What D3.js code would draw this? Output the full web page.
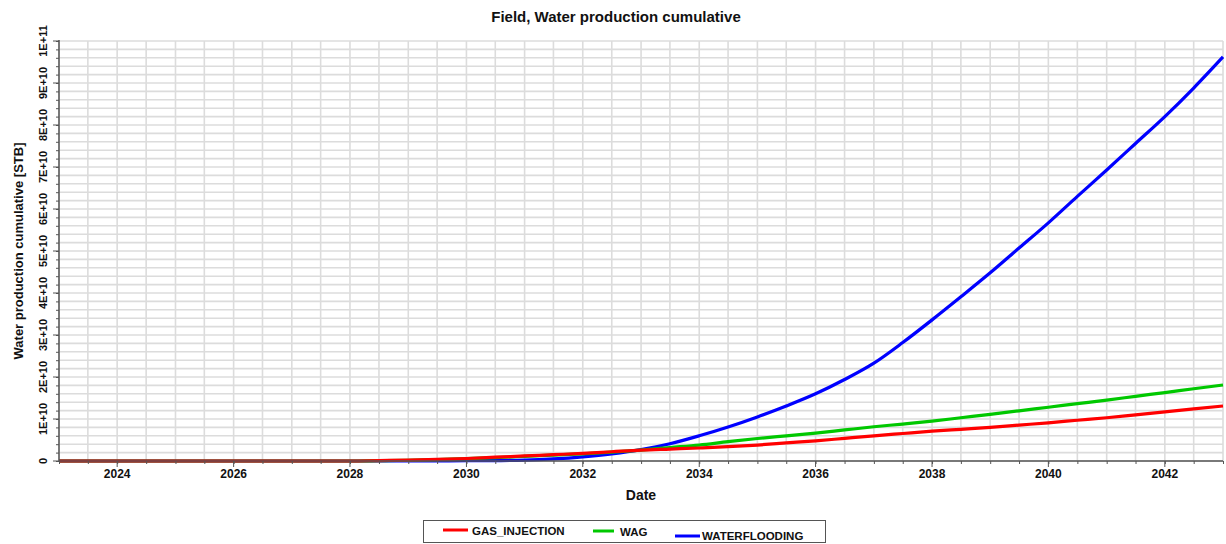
<!DOCTYPE html>
<html>
<head>
<meta charset="utf-8">
<script src="https://cdn.jsdelivr.net/npm/d3@7"></script>
<style>
  html, body { margin: 0; padding: 0; background: #fff; }
  svg { display: block; font-family: "Liberation Sans", Arial, sans-serif; }
</style>
</head>
<body>
<svg id="chart" width="1226" height="544"></svg>
<script>
// ---- Data ----
const dates = [
  "2023-01-01","2023-07-01","2024-01-01","2024-07-01","2025-01-01","2025-07-01",
  "2026-01-01","2026-07-01","2027-01-01","2027-07-01","2028-01-01","2028-07-01",
  "2029-01-01","2029-07-01","2030-01-01","2030-07-01","2031-01-01","2031-07-01",
  "2032-01-01","2032-07-01","2033-01-01","2033-07-01","2034-01-01","2034-07-01",
  "2035-01-01","2035-07-01","2036-01-01","2036-07-01","2037-01-01","2037-07-01",
  "2038-01-01","2038-07-01","2039-01-01","2039-07-01","2040-01-01","2040-07-01",
  "2041-01-01","2041-07-01","2042-01-01","2042-07-01","2043-01-01"
];
const gasInjection = [
  0,0,0,0,0,0, 0,0,0,0,0,0.01e10,
  0.02e10,0.04e10,0.06e10,0.09e10,0.12e10,0.15e10,
  0.18e10,0.22e10,0.26e10,0.285e10,0.31e10,0.34e10,
  0.38e10,0.43e10,0.48e10,0.54e10,0.60e10,0.655e10,
  0.71e10,0.755e10,0.80e10,0.855e10,0.91e10,0.97e10,
  1.03e10,1.10e10,1.17e10,1.24e10,1.31e10
];
const wag = [
  0,0,0,0,0,0, 0,0,0,0,0,0.008e10,
  0.018e10,0.035e10,0.055e10,0.08e10,0.11e10,0.14e10,
  0.17e10,0.21e10,0.26e10,0.32e10,0.38e10,0.46e10,
  0.535e10,0.60e10,0.665e10,0.74e10,0.815e10,0.88e10,
  0.95e10,1.03e10,1.11e10,1.195e10,1.28e10,1.365e10,
  1.45e10,1.54e10,1.63e10,1.72e10,1.81e10
];
const waterflooding = [
  0,0,0,0,0,0, 0,0,0,0,0,0,
  0.002e10,0.004e10,0.006e10,0.01e10,0.02e10,0.05e10,
  0.10e10,0.17e10,0.27e10,0.41e10,0.60e10,0.81e10,
  1.05e10,1.31e10,1.60e10,1.94e10,2.33e10,2.82e10,
  3.36e10,3.91e10,4.48e10,5.07e10,5.67e10,6.30e10,
  6.93e10,7.56e10,8.20e10,8.88e10,9.62e10
];
const seriesNames = ["GAS_INJECTION", "WAG", "WATERFLOODING"];
const seriesColors = ["#ff0000", "#00c800", "#0000ff"];
const yMajorTicks = [0,1e10,2e10,3e10,4e10,5e10,6e10,7e10,8e10,9e10,1e11];
const xLabelYears = [2024,2026,2028,2030,2032,2034,2036,2038,2040,2042];

const titleText = "Field, Water production cumulative";
const xTitle = "Date";
const yTitle = "Water production cumulative [STB]";

// ---- Layout ----
const svg = d3.select("#chart");
const L = 59, R = 1223, T = 41, B = 461;
const parse = d3.timeParse("%Y-%m-%d");
const dateObjs = dates.map(parse);

const x = d3.scaleTime().domain([parse("2023-01-01"), parse("2043-01-01")]).range([L, R]);
const y = d3.scaleLinear().domain([0, 1e11]).range([B, T]);

const halfYears = d3.timeMonth.every(6).range(parse("2023-01-01"), parse("2043-01-02"));
const yMinor = d3.range(0, 1e11 + 1, 2e9);

// grid
const grid = svg.append("g");
grid.selectAll("line.v").data(halfYears).join("line")
  .attr("x1", d => x(d)).attr("x2", d => x(d)).attr("y1", T).attr("y2", B)
  .attr("stroke", "#dcdcdc").attr("stroke-width", 1.6);
grid.selectAll("line.h").data(yMinor).join("line")
  .attr("x1", L).attr("x2", R).attr("y1", d => y(d)).attr("y2", d => y(d))
  .attr("stroke", "#dcdcdc").attr("stroke-width", 1.6);

// series lines
const line = d3.line().x((d, i) => x(dateObjs[i])).y(d => y(d)).curve(d3.curveMonotoneX);
const allSeries = [gasInjection, wag, waterflooding];
[2, 1, 0].forEach(k => {
  svg.append("path").datum(allSeries[k])
    .attr("d", line).attr("fill", "none")
    .attr("stroke", seriesColors[k]).attr("stroke-width", 3.2)
    .attr("stroke-linejoin", "round");
});

// axes
const fmtE = v => {
  if (v === 0) return "0";
  const e = Math.floor(Math.log10(v) + 1e-9);
  const m = Math.round(v / Math.pow(10, e));
  return m + "E+" + e;
};

const yAxisG = svg.append("g").attr("transform", `translate(${L},0)`);
yAxisG.call(d3.axisLeft(y).tickValues(yMinor).tickSize(3).tickFormat(""));
yAxisG.call(g => g.select(".domain").remove());
yAxisG.selectAll(".tick line").attr("stroke", "#555");
const yMaj = svg.append("g");
yMaj.selectAll("line").data(yMajorTicks).join("line")
  .attr("x1", L - 6).attr("x2", L).attr("y1", d => y(d)).attr("y2", d => y(d))
  .attr("stroke", "#555").attr("stroke-width", 1);
yMaj.selectAll("text").data(yMajorTicks).join("text")
  .attr("transform", d => `translate(${47},${y(d)}) rotate(-90)`)
  .attr("text-anchor", "middle")
  .attr("font-size", "11px").attr("font-weight", "bold").attr("fill", "#111")
  .text(fmtE);

const xAxisG = svg.append("g").attr("transform", `translate(0,${B})`);
xAxisG.call(d3.axisBottom(x).tickValues(halfYears).tickSize(3).tickFormat(""));
xAxisG.call(g => g.select(".domain").remove());
xAxisG.selectAll(".tick line").attr("stroke", "#555");
const xMaj = svg.append("g");
xMaj.selectAll("line").data(xLabelYears).join("line")
  .attr("x1", d => x(new Date(d, 0, 1))).attr("x2", d => x(new Date(d, 0, 1)))
  .attr("y1", B).attr("y2", B + 6).attr("stroke", "#555");
xMaj.selectAll("text").data(xLabelYears).join("text")
  .attr("x", d => x(new Date(d, 0, 1))).attr("y", 478)
  .attr("text-anchor", "middle")
  .attr("font-size", "12px").attr("font-weight", "bold").attr("fill", "#111")
  .text(d => d);

// axis lines
svg.append("line").attr("x1", L).attr("x2", L).attr("y1", T - 1).attr("y2", B)
  .attr("stroke", "#555").attr("stroke-width", 1.5);
svg.append("line").attr("x1", L).attr("x2", R).attr("y1", B).attr("y2", B)
  .attr("stroke", "#555").attr("stroke-width", 1.5);

// titles
svg.append("text").attr("x", 616).attr("y", 22).attr("text-anchor", "middle")
  .attr("font-size", "15px").attr("font-weight", "bold").attr("fill", "#111").text(titleText);
svg.append("text").attr("x", 641).attr("y", 500).attr("text-anchor", "middle")
  .attr("font-size", "14px").attr("font-weight", "bold").attr("fill", "#111").text(xTitle);
svg.append("text").attr("transform", `translate(23,${(T + B) / 2}) rotate(-90)`)
  .attr("text-anchor", "middle")
  .attr("font-size", "13px").attr("font-weight", "bold").attr("fill", "#111").text(yTitle);

// legend
const lg = svg.append("g");
lg.append("rect").attr("x", 423.5).attr("y", 520.5).attr("width", 402).attr("height", 22)
  .attr("fill", "#fff").attr("stroke", "#555").attr("stroke-width", 1);
const legendItems = [
  { x1: 443, x2: 468, ly: 530, tx: 472, ty: 535 },
  { x1: 593, x2: 614, ly: 531, tx: 620, ty: 536 },
  { x1: 675, x2: 700, ly: 536, tx: 702, ty: 540 }
];
legendItems.forEach((it, k) => {
  lg.append("line").attr("x1", it.x1).attr("x2", it.x2).attr("y1", it.ly).attr("y2", it.ly)
    .attr("stroke", seriesColors[k]).attr("stroke-width", 3);
  lg.append("text").attr("x", it.tx).attr("y", it.ty)
    .attr("font-size", "11.5px").attr("font-weight", "bold").attr("fill", "#111")
    .text(seriesNames[k]);
});
</script>
</body>
</html>
